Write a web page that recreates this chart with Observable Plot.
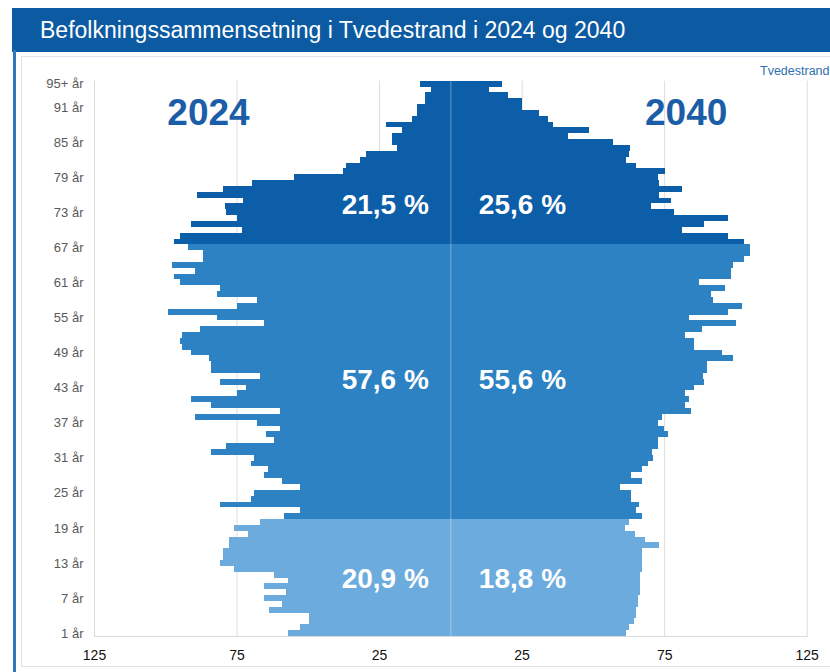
<!DOCTYPE html>
<html>
<head>
<meta charset="utf-8">
<script src="https://cdn.jsdelivr.net/npm/d3@7"></script>
<script src="https://cdn.jsdelivr.net/npm/@observablehq/plot@0.6"></script>
<style>
  body { margin: 0; background: #fff; font-family: "Liberation Sans", Arial, sans-serif; }
  #page { position: relative; width: 830px; height: 672px; overflow: hidden; background: #fff; }
  #titlebar { position: absolute; left: 12px; top: 8px; width: 818px; height: 44px; background: #0b5aa2;
              color: #fff; font-size: 23px; line-height: 44px; padding-left: 28px; box-sizing: border-box; white-space: nowrap; }
  #leftline { position: absolute; left: 13px; top: 50px; width: 3px; height: 622px; background: #2f78bb; }
  #panel { position: absolute; left: 21px; top: 56px; width: 840px; height: 611px; border: 1px solid #dde3ea; box-sizing: border-box; }
  #legend { position: absolute; left: 760px; top: 64px; font-size: 12.5px; color: #2f6fb0; white-space: nowrap; }
  #chart { position: absolute; left: 0; top: 57px; }
</style>
</head>
<body>
<div id="page">
  <div id="titlebar">Befolkningssammensetning i Tvedestrand i 2024 og 2040</div>
  <div id="leftline"></div>
  <div id="panel"></div>
  <div id="legend">Tvedestrand</div>
  <div id="chart"></div>
</div>
<script>
// Age categories (bottom to top); 95 = "95+"
const ages = [1,2,3,4,5,6,7,8,9,10,11,12,13,14,15,16,17,18,19,20,
  21,22,23,24,25,26,27,28,29,30,31,32,33,34,35,36,37,38,39,40,
  41,42,43,44,45,46,47,48,49,50,51,52,53,54,55,56,57,58,59,60,
  61,62,63,64,65,66,67,68,69,70,71,72,73,74,75,76,77,78,79,80,
  81,82,83,84,85,86,87,88,89,90,91,92,93,94,95];

// Number of persons per age, 2024 (left side)
const pop2024 = [56.8,52.7,49.5,49.5,63.6,58.9,65.5,57.7,65.5,56.8,
  62.0,75.8,80.8,79.7,79.7,77.8,77.8,70.9,75.8,66.7,
  58.5,52.7,80.8,69.8,68.8,52.7,58.9,65.5,63.8,69.8,
  68.8,83.8,78.8,61.8,64.7,59.7,67.9,89.6,59.7,83.8,
  90.8,74.7,71.8,80.8,66.7,83.8,83.8,84.6,90.8,94.0,
  94.8,94.0,87.8,65.5,81.7,98.9,74.7,67.9,81.7,80.8,
  94.8,96.9,89.6,97.7,86.9,86.9,92.0,96.9,94.8,73.0,
  90.8,74.9,78.8,79.0,72.9,88.9,79.7,69.6,54.8,37.6,
  36.7,31.6,29.6,18.8,20.3,20.3,16.8,22.6,13.6,11.8,
  11.8,8.8,8.8,6.8,10.6];

// Number of persons per age, 2040 (right side)
const pop2040 = [61.6,62.7,64.5,65.1,65.1,65.7,65.7,66.5,66.5,66.5,
  66.5,67.2,67.2,67.2,67.2,73.3,68.4,64.9,61.3,62.5,
  67.4,65.1,66.3,63.3,63.3,59.5,67.2,63.3,67.4,69.5,
  71.2,70.7,73.0,73.0,76.2,75.0,73.0,74.4,84.4,82.4,
  83.6,82.4,85.6,89.1,88.5,90.2,90.2,99.2,95.3,85.6,
  85.6,82.4,88.2,100.2,83.6,97.3,102.3,92.0,91.4,96.4,
  87.3,98.4,98.4,99.2,103.1,105.1,105.1,103.1,97.3,81.2,
  89.0,97.3,78.5,70.4,77.4,73.3,81.2,73.3,72.7,75.3,
  65.1,61.6,62.5,63.1,56.9,41.1,48.5,36.1,34.1,31.2,
  25.3,25.3,20.1,13.4,18.1];

// Age groups (top to bottom) and their shares
const groups = ["eldre", "voksne", "unge"];
const groupMinAge = [68, 21, 1];
const groupLabelAge = [74, 44, 10];
const share2024 = ["21,5 %", "57,6 %", "20,9 %"];
const share2040 = ["25,6 %", "55,6 %", "18,8 %"];
const groupColors = ["#0c5ea8", "#2c82c2", "#6cabdd"];

const years = ["2024", "2040"];
const xTicks = [-125, -75, -25, 25, 75, 125];
const yTicks = [1, 7, 13, 19, 25, 31, 37, 43, 49, 55, 61, 67, 73, 79, 85, 91, 95];

const groupOf = a => groups[groupMinAge.findIndex(m => a >= m)];

const rows = [];
ages.forEach((a, i) => {
  rows.push({age: a, year: "2024", value: -pop2024[i], group: groupOf(a)});
  rows.push({age: a, year: "2040", value: pop2040[i], group: groupOf(a)});
});

const labels2024 = groups.map((g, i) => ({age: groupLabelAge[i], text: share2024[i]}));
const labels2040 = groups.map((g, i) => ({age: groupLabelAge[i], text: share2040[i]}));

const chart = Plot.plot({
  width: 830,
  height: 615,
  marginTop: 23.7,
  marginBottom: 36,
  marginLeft: 94,
  marginRight: 23.3,
  style: {background: "transparent", fontFamily: "'Liberation Sans', Arial, sans-serif", fontSize: "14px", color: "#111"},
  x: {domain: [-125, 125], ticks: xTicks, tickFormat: d => Math.abs(d), tickSize: 0, tickPadding: 14, label: null},
  y: {type: "band", domain: ages.slice().reverse(), padding: 0, axis: null},
  color: {domain: groups, range: groupColors},
  marks: [
    Plot.ruleX(xTicks, {stroke: "#dcdcdc", strokeWidth: 1}),
    Plot.frame({anchor: "bottom", stroke: "#dcdcdc"}),
    Plot.barX(rows, {y: "age", x1: 0, x2: "value", fill: "group", shapeRendering: "crispEdges"}),
    Plot.ruleX([0], {stroke: "#ffffff", strokeOpacity: 0.35}),
    Plot.text(yTicks, {y: d => d, text: d => d === 95 ? "95+ år" : d + " år",
      frameAnchor: "left", textAnchor: "end", dx: -11, fill: "#595959", fontSize: 13}),
    Plot.text([years[0]], {frameAnchor: "top-left", dx: 114, dy: 18, textAnchor: "middle",
      fill: "#1b5ea7", fontSize: 37, fontWeight: "bold"}),
    Plot.text([years[1]], {frameAnchor: "top-right", dx: -121, dy: 18, textAnchor: "middle",
      fill: "#1b5ea7", fontSize: 37, fontWeight: "bold"}),
    Plot.text(labels2024, {x: 0, y: "age", text: "text", dx: -22, dy: -2, textAnchor: "end",
      fill: "#fff", fontSize: 28, fontWeight: "bold"}),
    Plot.text(labels2040, {x: 0, y: "age", text: "text", dx: 28, dy: -2, textAnchor: "start",
      fill: "#fff", fontSize: 28, fontWeight: "bold"})
  ]
});
document.getElementById("chart").appendChild(chart);
</script>
</body>
</html>
